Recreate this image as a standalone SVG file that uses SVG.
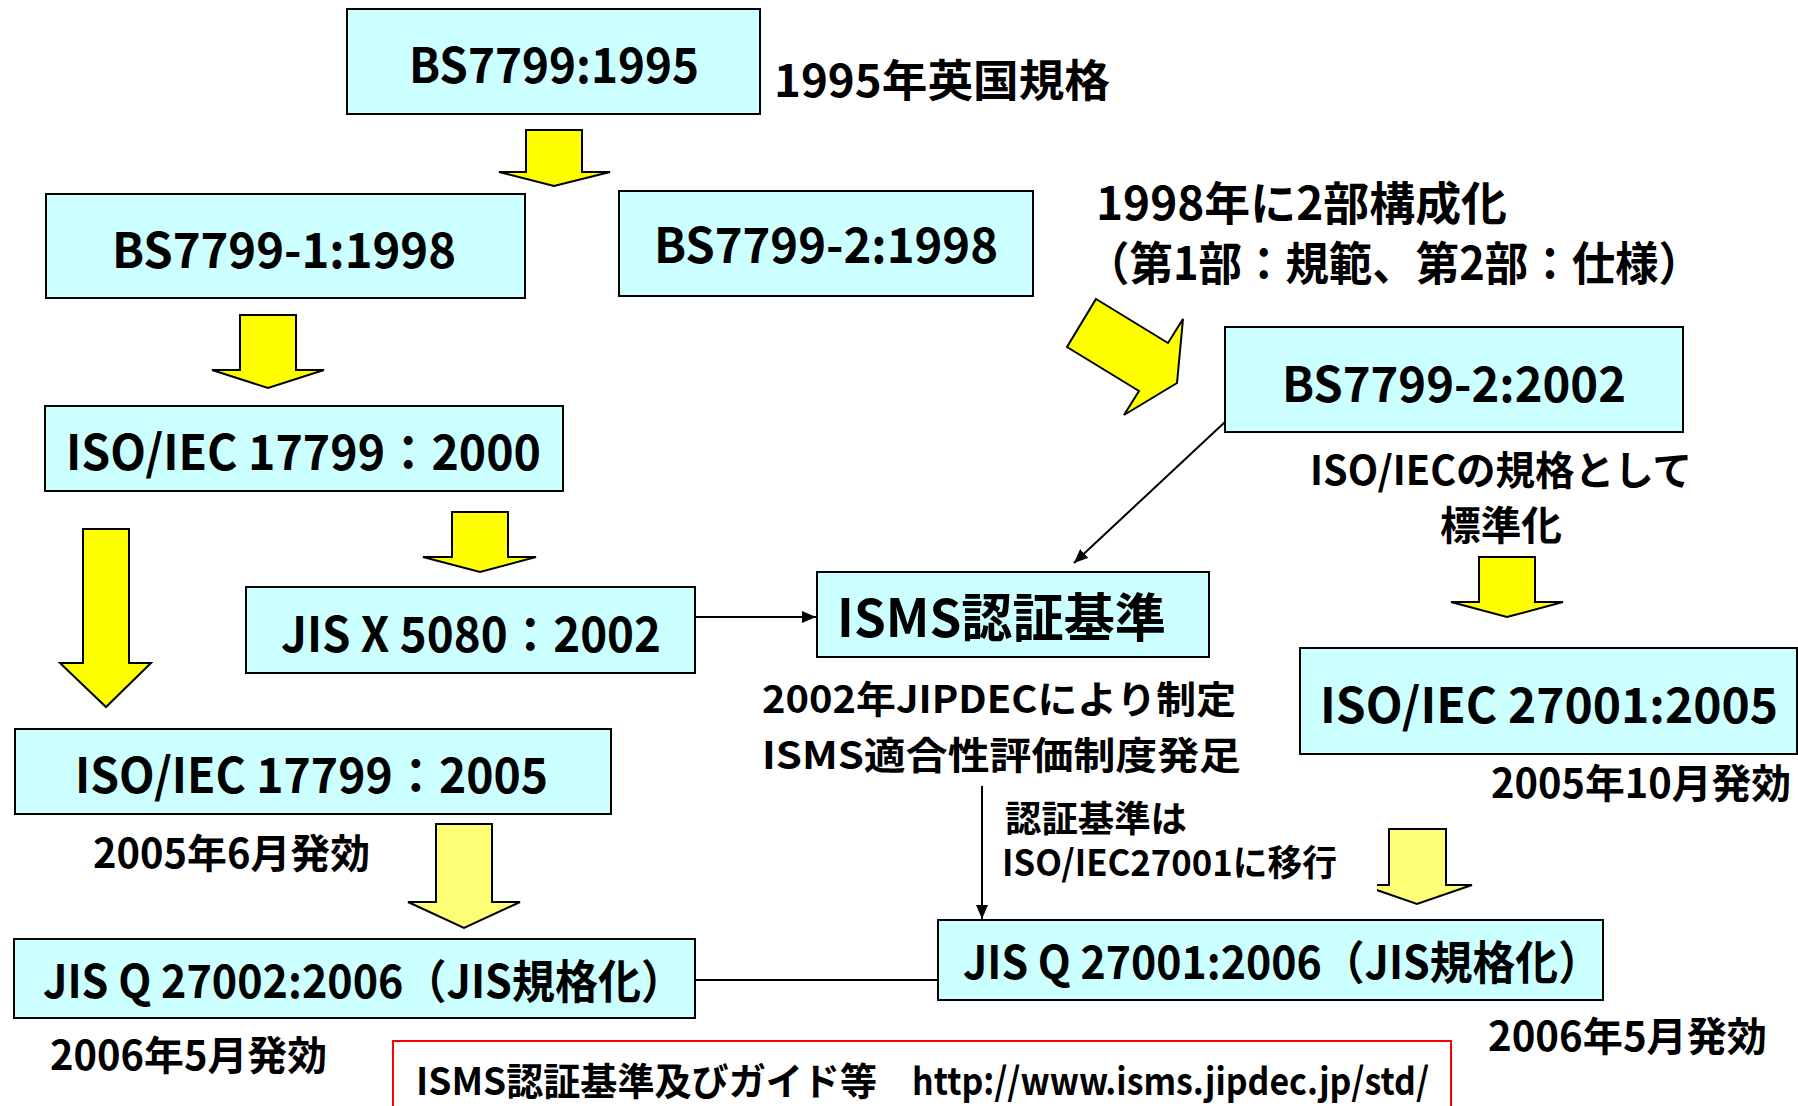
<svg xmlns="http://www.w3.org/2000/svg" width="1798" height="1106" viewBox="0 0 1798 1106">
<style>
.box{fill:#CCFFFF;stroke:#000;stroke-width:2}
.t{font-family:"Noto Sans CJK JP","Liberation Sans",sans-serif;font-weight:bold;fill:#000}
.ya{fill:#FFFF00;stroke:#000;stroke-width:2;stroke-linejoin:miter}
.yl{fill:#FFFF77;stroke:#000;stroke-width:2;stroke-linejoin:miter}
.c{stroke:#000;stroke-width:2;fill:none}
</style>
<defs>
<marker id="ah" viewBox="0 0 14 12" refX="14" refY="6" markerWidth="14" markerHeight="12" markerUnits="userSpaceOnUse" orient="auto">
<path d="M0,0 L14,6 L0,12 Z" fill="#000"/>
</marker>
<clipPath id="clipA7"><rect x="1377" y="800" width="200" height="150"/></clipPath>
</defs>
<rect width="1798" height="1106" fill="#fff"/>

<g id="yellow-arrows">
<polygon class="ya" points="526,130 582,130 582,172 610,172 554,186 499,172 526,172"/>
<polygon class="ya" points="240,315 296,315 296,370 324,370 268,388 212,370 240,370"/>
<polygon class="ya" points="452,512 508,512 508,557 536,557 480,572 423,557 452,557"/>
<polygon class="ya" points="83,529 129,529 129,663 151,663 106,707 60,663 83,663"/>
<polygon class="yl" points="436,824 492,824 492,902 520,902 464,928 408,902 436,902"/>
<polygon class="ya" points="1479,557 1535,557 1535,602 1563,602 1507,617 1451,602 1479,602"/>
<polygon class="yl" clip-path="url(#clipA7)" points="1389,829 1446,829 1446,885 1472,885 1417,904 1362,885 1389,885"/>
<polygon class="ya" points="1096,299 1168,343 1183,319 1177,383 1124,415 1139,391 1067,347"/>
</g>

<g id="connectors">
<line class="c" x1="695" y1="617" x2="816" y2="617" marker-end="url(#ah)"/>
<line class="c" x1="1225" y1="422" x2="1074" y2="563" marker-end="url(#ah)"/>
<line class="c" x1="982" y1="786" x2="982" y2="919" marker-end="url(#ah)"/>
<line class="c" x1="695" y1="980" x2="938" y2="980"/>
</g>

<g id="n-bs7799-1995">
<rect class="box" x="347" y="9" width="413" height="105"/>
<text class="t" x="409" y="83" font-size="48" textLength="290" lengthAdjust="spacingAndGlyphs">BS7799:1995</text>
</g>
<g id="lbl-1995">
<text class="t" x="774" y="97" font-size="44" textLength="336" lengthAdjust="spacingAndGlyphs">1995年英国規格</text>
</g>

<g id="n-bs7799-1-1998">
<rect class="box" x="46" y="194" width="479" height="104"/>
<text class="t" x="112" y="268" font-size="48" textLength="344" lengthAdjust="spacingAndGlyphs">BS7799-1:1998</text>
</g>

<g id="n-bs7799-2-1998">
<rect class="box" x="619" y="191" width="414" height="105"/>
<text class="t" x="654" y="263" font-size="48" textLength="344" lengthAdjust="spacingAndGlyphs">BS7799-2:1998</text>
</g>

<g id="lbl-1998">
<text class="t" x="1096" y="220" font-size="46" textLength="411" lengthAdjust="spacingAndGlyphs">1998年に2部構成化</text>
<text class="t" x="1086" y="280" font-size="46" textLength="616" lengthAdjust="spacingAndGlyphs">（第1部：規範、第2部：仕様）</text>
</g>

<g id="n-bs7799-2-2002">
<rect class="box" x="1225" y="327" width="458" height="105"/>
<text class="t" x="1282" y="402" font-size="48" textLength="344" lengthAdjust="spacingAndGlyphs">BS7799-2:2002</text>
</g>

<g id="lbl-std">
<text class="t" x="1310" y="485" font-size="40" textLength="382" lengthAdjust="spacingAndGlyphs">ISO/IECの規格として</text>
<text class="t" x="1440" y="540" font-size="40" textLength="122" lengthAdjust="spacingAndGlyphs">標準化</text>
</g>

<g id="n-iso17799-2000">
<rect class="box" x="45" y="406" width="518" height="85"/>
<text class="t" x="66" y="470" font-size="48" textLength="475" lengthAdjust="spacingAndGlyphs">ISO/IEC 17799：2000</text>
</g>

<g id="n-jisx5080">
<rect class="box" x="246" y="587" width="449" height="86"/>
<text class="t" x="281" y="652" font-size="48" textLength="380" lengthAdjust="spacingAndGlyphs">JIS X 5080：2002</text>
</g>

<g id="n-isms">
<rect class="box" x="817" y="572" width="392" height="85"/>
<text class="t" x="837" y="637" font-size="52" textLength="329" lengthAdjust="spacingAndGlyphs">ISMS認証基準</text>
</g>

<g id="lbl-isms">
<text class="t" x="762" y="713" font-size="38" textLength="474" lengthAdjust="spacingAndGlyphs">2002年JIPDECにより制定</text>
<text class="t" x="762" y="769" font-size="38" textLength="479" lengthAdjust="spacingAndGlyphs">ISMS適合性評価制度発足</text>
<text class="t" x="1005" y="832" font-size="36" textLength="182" lengthAdjust="spacingAndGlyphs">認証基準は</text>
<text class="t" x="1002" y="876" font-size="36" textLength="335" lengthAdjust="spacingAndGlyphs">ISO/IEC27001に移行</text>
</g>

<g id="n-iso27001">
<rect class="box" x="1300" y="648" width="497" height="106" stroke-width="2.5"/>
<text class="t" x="1320" y="723" font-size="48" textLength="458" lengthAdjust="spacingAndGlyphs">ISO/IEC 27001:2005</text>
</g>
<g id="lbl-2005-10">
<text class="t" x="1491" y="798" font-size="40" textLength="300" lengthAdjust="spacingAndGlyphs">2005年10月発効</text>
</g>

<g id="n-iso17799-2005">
<rect class="box" x="15" y="729" width="596" height="85"/>
<text class="t" x="75" y="793" font-size="48" textLength="473" lengthAdjust="spacingAndGlyphs">ISO/IEC 17799：2005</text>
</g>
<g id="lbl-2005-6">
<text class="t" x="93" y="868" font-size="40" textLength="277" lengthAdjust="spacingAndGlyphs">2005年6月発効</text>
</g>

<g id="n-jisq27002">
<rect class="box" x="14" y="939" width="681" height="79"/>
<text class="t" x="43" y="998" font-size="46" textLength="641" lengthAdjust="spacingAndGlyphs">JIS Q 27002:2006（JIS規格化）</text>
</g>
<g id="lbl-2006-5-left">
<text class="t" x="50" y="1070" font-size="40" textLength="277" lengthAdjust="spacingAndGlyphs">2006年5月発効</text>
</g>

<g id="n-jisq27001">
<rect class="box" x="938" y="920" width="665" height="80"/>
<text class="t" x="963" y="979" font-size="46" textLength="638" lengthAdjust="spacingAndGlyphs">JIS Q 27001:2006（JIS規格化）</text>
</g>
<g id="lbl-2006-5-right">
<text class="t" x="1488" y="1051" font-size="40" textLength="279" lengthAdjust="spacingAndGlyphs">2006年5月発効</text>
</g>

<g id="n-link">
<rect x="393" y="1041" width="1058" height="80" fill="#fff" stroke="#FF0000" stroke-width="2"/>
<text class="t" x="416" y="1095" font-size="38" textLength="461" lengthAdjust="spacingAndGlyphs">ISMS認証基準及びガイド等</text>
<text class="t" x="912" y="1095" font-size="38" textLength="517" lengthAdjust="spacingAndGlyphs">http://www.isms.jipdec.jp/std/</text>
</g>
</svg>
